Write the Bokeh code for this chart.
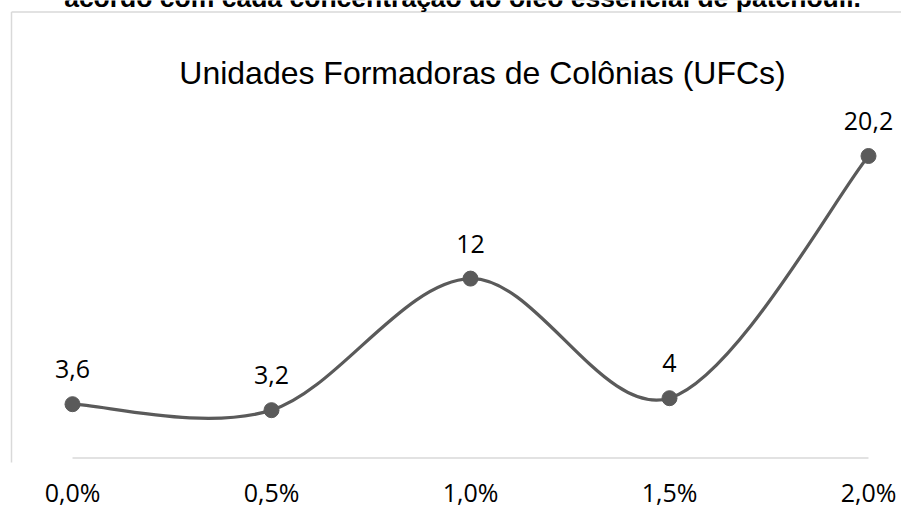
from bokeh.plotting import figure
from bokeh.models import Range1d, FixedTicker
from bokeh.core.properties import value
from bokeh.embed import file_html
from bokeh.resources import INLINE

# ---- data ----
categories = ["0,0%", "0,5%", "1,0%", "1,5%", "2,0%"]
ufc = [3.6, 3.2, 12, 4, 20.2]
value_labels = ["3,6", "3,2", "12", "4", "20,2"]
title_text = "Unidades Formadoras de Colônias (UFCs)"
caption_text = "acordo com cada concentração do óleo essencial de patchouli."

# ---- layout helpers (pixel geometry) ----
W, H = 901, 527
AXIS_PANEL = 65
FRAME_H = H - AXIS_PANEL
X0_PX, DX_PX = 72.0, 199.0
Y0_PX, DY_PX = 457.5, 14.95


def px_x(px):
    return (px - X0_PX) / DX_PX


def px_y(py):
    return (Y0_PX - py) / DY_PX


GRAY = "#5a5a5a"
LIGHT = "#d9d9d9"

xs = list(range(len(ufc)))

p = figure(
    width=W, height=H,
    x_range=Range1d(px_x(0), px_x(W)),
    y_range=Range1d(px_y(FRAME_H), px_y(0)),
    output_backend="svg", toolbar_location=None, title=None,
    y_axis_location=None,
    min_border_left=0, min_border_right=0, min_border_top=0,
    min_border_bottom=AXIS_PANEL,
    outline_line_color=None,
    background_fill_color="white", border_fill_color="white",
)
p.xgrid.visible = False
p.ygrid.visible = False

ax = p.xaxis[0]
ax.ticker = FixedTicker(ticks=xs)
ax.major_label_overrides = {i: c for i, c in zip(xs, categories)}
ax.axis_line_color = None
ax.major_tick_line_color = None
ax.minor_tick_line_color = None
ax.major_tick_out = 0
ax.major_tick_in = 0
ax.major_label_standoff = 12
ax.major_label_text_font = "Open Sans"
ax.major_label_text_font_size = "25px"
ax.major_label_text_color = "black"

# chart border (left and top edges visible)
p.segment(x0=[px_x(11), px_x(11)], y0=[px_y(11.5), px_y(11.5)],
          x1=[px_x(11), px_x(W + 5)], y1=[px_y(FRAME_H + 5), px_y(11.5)],
          line_color=LIGHT, line_width=1.5)

# category axis baseline
p.segment(x0=[xs[0]], y0=[0], x1=[xs[-1]], y1=[0], line_color=LIGHT, line_width=1.5)

# smoothed line (Catmull-Rom style Bezier, as Excel smoothing)
n = len(ufc)
bx0, by0, bx1, by1, cx0, cy0, cx1, cy1 = [], [], [], [], [], [], [], []
for i in range(n - 1):
    pm = (xs[max(i - 1, 0)], ufc[max(i - 1, 0)])
    p0 = (xs[i], ufc[i])
    p1 = (xs[i + 1], ufc[i + 1])
    pp = (xs[min(i + 2, n - 1)], ufc[min(i + 2, n - 1)])
    bx0.append(p0[0]); by0.append(p0[1])
    bx1.append(p1[0]); by1.append(p1[1])
    cx0.append(p0[0] + (p1[0] - pm[0]) / 6.0)
    cy0.append(p0[1] + (p1[1] - pm[1]) / 6.0)
    cx1.append(p1[0] - (pp[0] - p0[0]) / 6.0)
    cy1.append(p1[1] - (pp[1] - p0[1]) / 6.0)
p.bezier(x0=bx0, y0=by0, x1=bx1, y1=by1, cx0=cx0, cy0=cy0, cx1=cx1, cy1=cy1,
         line_color=GRAY, line_width=3.25, line_cap="round")

p.scatter(xs, ufc, size=15, fill_color=GRAY, line_color=GRAY, marker="circle")

# data labels
p.text(xs, ufc, text=value_labels, text_align="center", text_baseline="alphabetic",
       y_offset=-35, text_font=value("Open Sans"), text_font_size=value("25px"),
       text_color="black")

# chart title
p.text(x=[px_x(482)], y=[px_y(72)], text=[title_text], text_align="center",
       text_baseline="alphabetic", text_font=value("Liberation Sans"),
       text_font_size=value("32px"), text_color="black")

# cropped caption above the chart (cut by the top edge, as in the source)
p.text(x=[px_x(462)], y=[px_y(-2.5)], text=[caption_text], text_align="center",
       text_baseline="alphabetic", text_font=value("Liberation Sans"),
       text_font_style="bold", text_font_size=value("26.5px"), text_color="black")

open("out.html", "w").write(file_html(p, INLINE))
